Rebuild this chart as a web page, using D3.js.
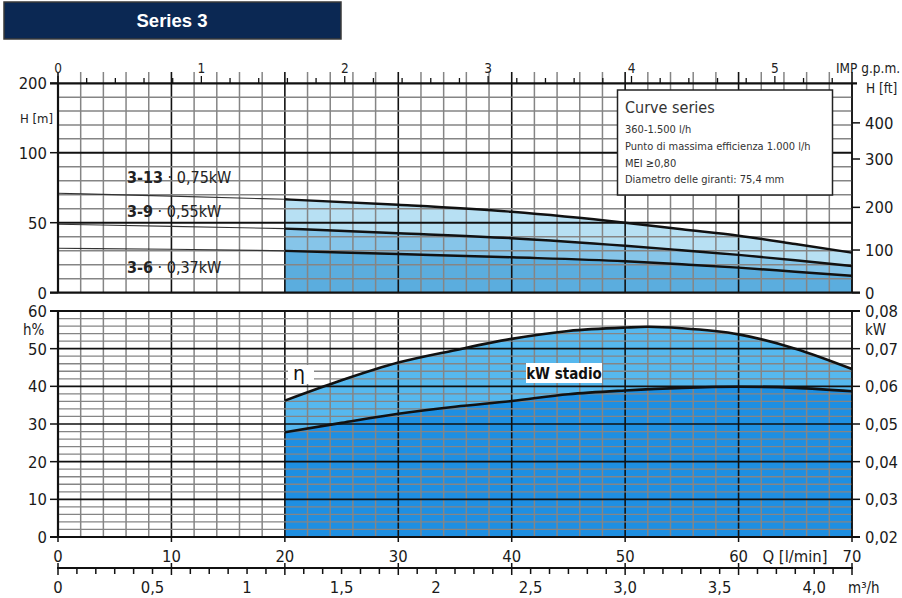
<!DOCTYPE html>
<html><head><meta charset="utf-8">
<script src="https://cdn.jsdelivr.net/npm/d3@7"></script>
<style>
html,body{margin:0;padding:0;background:#fff;}
svg{display:block;}
text{font-family:"Liberation Sans Narrow","DejaVu Sans Condensed","Liberation Sans",sans-serif;}
</style></head>
<body>
<svg id="c" width="902" height="598"></svg>
<script>
// ---------- DATA ----------
const flowLmin = [0, 10, 20, 30, 40, 50, 55, 60, 65, 70];
const head313 = [71, 69, 66.7, 62.8, 57.8, 50, 45.3, 40.7, 34.8, 28.6];
const head39  = [48.9, 47.4, 45.8, 42.5, 38.9, 33.5, 30.3, 27, 23.2, 19.1];
const head36  = [31.7, 31, 29.9, 27.6, 25.3, 22.5, 20.3, 17.9, 15, 12.1];
const pumpNames = ["3-13", "3-9", "3-6"];
const pumpPowers = ["0,75kW", "0,55kW", "0,37kW"];
const effFlow = [20, 25, 30, 35, 40, 45, 50, 52, 55, 60, 65, 70];
const effPct  = [36.2, 41.6, 46.3, 49.6, 52.6, 54.7, 55.6, 55.8, 55.4, 53.8, 50.0, 44.6];
const kwFlow  = [20, 25, 30, 35, 40, 45, 50, 55, 60, 65, 70];
const kwStage = [0.0478, 0.0503, 0.0527, 0.0546, 0.0561, 0.0579, 0.0589, 0.0596, 0.0599, 0.0596, 0.0587];
const headTicks = [0, 50, 100, 200];
const ftTicks = [0, 100, 200, 300, 400];
const ftAsMeters = [0, 30.48, 60.96, 95.5, 143];
const effTicks = [0, 10, 20, 30, 40, 50, 60];
const kwTicks = [0.02, 0.03, 0.04, 0.05, 0.06, 0.07, 0.08];
const lminTicks = [0, 10, 20, 30, 40, 50, 60, 70];
const m3hTicks = [0, 0.5, 1, 1.5, 2, 2.5, 3, 3.5, 4];
const m3hLabels = ["0","0,5","1","1,5","2","2,5","3,0","3,5","4,0"];
const gpmTicks = [0, 1, 2, 3, 4, 5];
const GPM_LMIN = 12.64;   // as drawn on the top scale
const M3H_LMIN = 1000/60;
const legendLines = ["360-1.500 l/h","Punto di massima efficienza 1.000 l/h","MEI \u22650,80","Diametro delle giranti: 75,4 mm"];

// ---------- SCALES ----------
const svg = d3.select("#c");
const x = d3.scaleLinear().domain([0, 70]).range([58, 852]);
const yH = d3.scaleLinear().domain([0, 100, 200]).range([292.7, 152.7, 83.3]);
const yFt = d3.scaleLinear().domain(ftTicks).range(ftAsMeters.map(yH));
const yE = d3.scaleLinear().domain([0, 60]).range([537, 311]);
const yK = d3.scaleLinear().domain([0.02, 0.08]).range([537, 311]);
const X0 = x(0), X1 = x(70);
const comma = v => String(v).replace(".", ",");

// ---------- HEADER ----------
svg.append("rect").attr("x",4).attr("y",2).attr("width",337).attr("height",37)
  .attr("fill","#0b2853").attr("stroke","#3a3a3a").attr("stroke-width",1.5);
svg.append("text").attr("x",172).attr("y",27).attr("text-anchor","middle")
  .style("font-family","'Liberation Sans',Arial,sans-serif").style("font-weight","bold")
  .style("font-size","18.5px").attr("fill","#fff").text("Series 3");

// ---------- TOP CHART ----------
const gTop = svg.append("g");
const pts = (xs, ys) => xs.map((v,i)=>[v, ys[i]]);
const c313 = pts(flowLmin, head313), c39 = pts(flowLmin, head39), c36 = pts(flowLmin, head36);
const seg = (arr) => arr.filter(d => d[0] >= 20);
const curve = d3.curveMonotoneX;

[[c313,"#b7e0f3"],[c39,"#86c5e9"],[c36,"#5badde"]].forEach(([c,col]) =>
  gTop.append("path").datum(seg(c)).attr("fill",col)
    .attr("d", d3.area().curve(curve).x(d=>x(d[0])).y0(yH(0)).y1(d=>yH(d[1]))));

// grid top
const vGrid = d3.range(0, 71, 2);
gTop.selectAll(".vg").data(vGrid).enter().append("line")
  .attr("x1", d=>x(d)).attr("x2", d=>x(d)).attr("y1", 72).attr("y2", yH(0))
  .attr("stroke", d => d%10===0 ? "#111" : "#858585").attr("stroke-width", d => d%10===0 ? 1.6 : 1.5);
const hMinorTop = [10,20,30,40,60,70,80,90,120,140,160,180];
gTop.selectAll(".hg").data(hMinorTop).enter().append("line")
  .attr("x1", X0).attr("x2", X1).attr("y1", d=>yH(d)).attr("y2", d=>yH(d))
  .attr("stroke","#858585").attr("stroke-width",1.5);
[50,100].forEach(v => gTop.append("line").attr("x1",X0).attr("x2",X1).attr("y1",yH(v)).attr("y2",yH(v))
  .attr("stroke","#111").attr("stroke-width",2));

// curves
const line = d3.line().curve(curve).x(d=>x(d[0])).y(d=>yH(d[1]));
[c313, c39, c36].forEach(c => {
  gTop.append("path").datum(c.filter(d=>d[0]<=20)).attr("fill","none").attr("stroke","#333").attr("stroke-width",1.1).attr("d", line);
  gTop.append("path").datum(seg(c)).attr("fill","none").attr("stroke","#111").attr("stroke-width",2.4).attr("d", line);
});

// borders
gTop.append("line").attr("x1",50).attr("x2",857).attr("y1",yH(200)).attr("y2",yH(200)).attr("stroke","#111").attr("stroke-width",2.2);
gTop.append("line").attr("x1",50).attr("x2",860).attr("y1",yH(0)).attr("y2",yH(0)).attr("stroke","#111").attr("stroke-width",2.2);
gTop.append("line").attr("x1",X0).attr("x2",X0).attr("y1",yH(200)).attr("y2",yH(0)).attr("stroke","#111").attr("stroke-width",2.2);
gTop.append("line").attr("x1",X1).attr("x2",X1).attr("y1",yH(200)).attr("y2",yH(0)).attr("stroke","#111").attr("stroke-width",1.4);

// left H ticks
headTicks.forEach(v => {
  gTop.append("line").attr("x1",50).attr("x2",X0).attr("y1",yH(v)).attr("y2",yH(v)).attr("stroke","#111").attr("stroke-width",1.5);
  gTop.append("text").attr("x",47).attr("y",yH(v)+6).attr("text-anchor","end").style("font-size","16.5px").attr("fill","#1a1a1a").text(v);
});
gTop.append("text").attr("x",20).attr("y",123).style("font-size","13px").attr("fill","#222").text("H [m]");
// right ft ticks
ftTicks.forEach(v => {
  gTop.append("line").attr("x1",X1).attr("x2",860).attr("y1",yFt(v)).attr("y2",yFt(v)).attr("stroke","#111").attr("stroke-width",1.5);
  gTop.append("text").attr("x",865).attr("y",yFt(v)+6).style("font-size","16.5px").attr("fill","#1a1a1a").text(v);
});
gTop.append("text").attr("x",866).attr("y",93).style("font-size","13.5px").attr("fill","#222").text("H [ft]");

// top gpm axis
const gpmMinor = d3.range(0, 5.41, 0.2);
gTop.selectAll(".gt").data(gpmMinor).enter().append("line")
  .attr("x1", d=>x(d*GPM_LMIN)).attr("x2", d=>x(d*GPM_LMIN))
  .attr("y1", d=> Math.abs(d-Math.round(d))<1e-6 ? 76 : 78).attr("y2", yH(200))
  .attr("stroke","#111").attr("stroke-width",1.3);
gpmTicks.forEach(v => gTop.append("text").attr("x", x(v*GPM_LMIN)).attr("y",73).attr("text-anchor","middle")
  .style("font-size","13.5px").attr("fill","#222").text(v));
gTop.append("text").attr("x",836).attr("y",73).style("font-size","13.5px").attr("fill","#222").text("IMP g.p.m.");

// pump labels
pumpNames.forEach((p,i) => {
  const ty = [183, 217, 273][i];
  const t = gTop.append("text").attr("x",127).attr("y",ty).style("font-size","16px").attr("fill","#222");
  t.append("tspan").style("font-weight","bold").text(p);
  t.append("tspan").text(" \u00b7 " + pumpPowers[i]);
});

// legend box
const lg = gTop.append("g");
lg.append("rect").attr("x",617.5).attr("y",90).attr("width",215).attr("height",105)
  .attr("fill","#fff").attr("stroke","#222").attr("stroke-width",1.5);
lg.append("text").attr("x",625).attr("y",113).style("font-size","16px").attr("fill","#333").text("Curve series");
legendLines.forEach((s,i) => lg.append("text").attr("x",625).attr("y",[133,150,166.5,183][i])
  .style("font-size","11px").attr("fill","#333").text(s));

// ---------- BOTTOM CHART ----------
const gBot = svg.append("g");
const eff = pts(effFlow, effPct), kw = pts(kwFlow, kwStage);
gBot.append("path").datum(eff).attr("fill","#56b8ee")
  .attr("d", d3.area().curve(curve).x(d=>x(d[0])).y0(yE(0)).y1(d=>yE(d[1])));
gBot.append("path").datum(kw).attr("fill","#1e8fe2")
  .attr("d", d3.area().curve(curve).x(d=>x(d[0])).y0(yK(0.02)).y1(d=>yK(d[1])));

gBot.selectAll(".vg").data(vGrid).enter().append("line")
  .attr("x1", d=>x(d)).attr("x2", d=>x(d)).attr("y1", yE(60)).attr("y2", yE(0))
  .attr("stroke", d => d%10===0 ? "#111" : "#858585").attr("stroke-width", d => d%10===0 ? 1.6 : 1.5);
const hB = d3.range(2, 60, 2);
gBot.selectAll(".hg").data(hB).enter().append("line")
  .attr("x1", X0).attr("x2", X1).attr("y1", d=>yE(d)).attr("y2", d=>yE(d))
  .attr("stroke", d => d%10===0 ? "#111" : "#858585").attr("stroke-width", d => d%10===0 ? 1.6 : 1.3);

const lineE = d3.line().curve(curve).x(d=>x(d[0])).y(d=>yE(d[1]));
const lineK = d3.line().curve(curve).x(d=>x(d[0])).y(d=>yK(d[1]));
gBot.append("path").datum(eff).attr("fill","none").attr("stroke","#111").attr("stroke-width",2.6).attr("d",lineE);
gBot.append("path").datum(kw).attr("fill","none").attr("stroke","#111").attr("stroke-width",2.6).attr("d",lineK);

gBot.append("line").attr("x1",50).attr("x2",860).attr("y1",yE(60)).attr("y2",yE(60)).attr("stroke","#111").attr("stroke-width",2.2);
gBot.append("line").attr("x1",50).attr("x2",860).attr("y1",yE(0)).attr("y2",yE(0)).attr("stroke","#111").attr("stroke-width",2.2);
gBot.append("line").attr("x1",X0).attr("x2",X0).attr("y1",yE(60)).attr("y2",yE(0)).attr("stroke","#111").attr("stroke-width",2.2);
gBot.append("line").attr("x1",X1).attr("x2",X1).attr("y1",yE(60)).attr("y2",yE(0)).attr("stroke","#111").attr("stroke-width",1.4);

effTicks.forEach(v => {
  gBot.append("line").attr("x1",50).attr("x2",X0).attr("y1",yE(v)).attr("y2",yE(v)).attr("stroke","#111").attr("stroke-width",1.5);
  gBot.append("text").attr("x",47).attr("y",yE(v)+6).attr("text-anchor","end").style("font-size","16.5px").attr("fill","#1a1a1a").text(v);
});
gBot.append("text").attr("x",23).attr("y",335).style("font-size","15px").attr("fill","#1a1a1a").text("h%");
kwTicks.forEach(v => {
  gBot.append("line").attr("x1",X1).attr("x2",860).attr("y1",yK(v)).attr("y2",yK(v)).attr("stroke","#111").attr("stroke-width",1.5);
  gBot.append("text").attr("x",865).attr("y",yK(v)+6).style("font-size","16.5px").attr("fill","#1a1a1a").text(comma(v.toFixed(2)));
});
gBot.append("text").attr("x",865).attr("y",335).style("font-size","15px").attr("fill","#1a1a1a").text("kW");

// labels inside
gBot.append("rect").attr("x",288).attr("y",365).attr("width",26).attr("height",19).attr("fill","#fff");
gBot.append("text").attr("x",293).attr("y",380).style("font-family","'DejaVu Sans',sans-serif").style("font-size","19px").attr("fill","#111").text("\u03b7");
gBot.append("rect").attr("x",526).attr("y",363).attr("width",76).attr("height",20).attr("fill","#fff");
gBot.append("text").attr("x",564).attr("y",379).attr("text-anchor","middle").style("font-weight","bold").style("font-size","15px").attr("fill","#111").text("kW stadio");

// l/min axis
lminTicks.forEach(v => {
  gBot.append("line").attr("x1",x(v)).attr("x2",x(v)).attr("y1",yE(0)).attr("y2",yE(0)+5).attr("stroke","#111").attr("stroke-width",1.5);
  gBot.append("text").attr("x",x(v)).attr("y",562).attr("text-anchor","middle").style("font-size","16.5px").attr("fill","#1a1a1a").text(v);
});
gBot.append("text").attr("x",795).attr("y",562).attr("text-anchor","middle").style("font-size","16.5px").attr("fill","#1a1a1a").text("Q [l/min]");

// m3/h axis
const yM = 568;
gBot.append("line").attr("x1",X0-1).attr("x2",X1+1).attr("y1",yM).attr("y2",yM).attr("stroke","#111").attr("stroke-width",2);
const m3Minor = d3.range(0, 4.201, 0.1);
gBot.selectAll(".mt").data(m3Minor).enter().append("line")
  .attr("x1", d=>x(d*M3H_LMIN)).attr("x2", d=>x(d*M3H_LMIN))
  .attr("y1", d => (Math.round(d*10)%6===0) ? yM-5 : yM).attr("y2", d => (Math.round(d*10)%6===0) ? yM+7 : yM+6)
  .attr("stroke","#111").attr("stroke-width",1.5);
m3hTicks.forEach((v,i) => gBot.append("text").attr("x", x(v*M3H_LMIN)).attr("y",593).attr("text-anchor","middle")
  .style("font-size","16.5px").attr("fill","#1a1a1a").text(m3hLabels[i]));
gBot.append("text").attr("x",848).attr("y",593).style("font-size","15px").attr("fill","#1a1a1a").text("m\u00b3/h");
</script>
</body></html>
